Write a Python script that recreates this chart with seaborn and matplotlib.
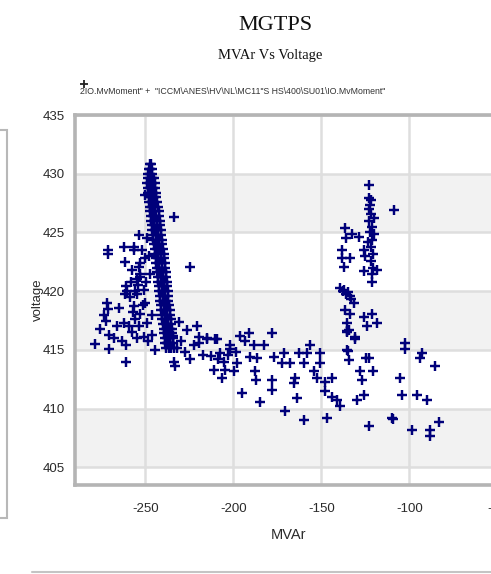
import numpy as np
import pandas as pd
import matplotlib
matplotlib.use("Agg")
import matplotlib.pyplot as plt
from matplotlib import font_manager
from matplotlib.ticker import MultipleLocator
from matplotlib.patches import Rectangle
from matplotlib.lines import Line2D
import seaborn as sns

# ---------------- data ----------------
# dense ridge: voltage levels and MVAr values across the ridge at each level
band_levels = [430.8, 430.4, 430.0, 429.6, 429.2, 428.8, 428.4, 428.0, 427.6, 427.2,
               426.8, 426.4, 426.0, 425.6, 425.2, 424.8, 424.4, 424.0, 423.6, 423.2,
               422.8, 422.4, 422.0, 421.6, 421.2, 420.8, 420.4, 420.0, 419.6, 419.2,
               418.8, 418.4, 418.0, 417.6, 417.2, 416.8, 416.4, 416.0, 415.6, 415.2]
band_mvar = [
    [-247.6, -247.0],
    [-248.0, -247.2, -246.5],
    [-248.4, -247.4, -246.2],
    [-248.7, -247.5, -246.0, -245.0],
    [-248.9, -247.6, -246.1, -244.5],
    [-248.6, -247.3, -245.9, -244.4],
    [-248.4, -247.0, -245.6, -244.2],
    [-248.2, -246.8, -245.3, -243.8],
    [-248.0, -246.5, -245.0, -243.4],
    [-247.6, -246.2, -244.7, -243.0],
    [-247.3, -245.8, -244.3, -242.5],
    [-247.0, -245.5, -244.0, -242.0],
    [-246.7, -245.2, -243.6, -241.8],
    [-246.4, -244.9, -243.3, -241.5],
    [-246.0, -244.5, -243.0, -241.2],
    [-245.7, -244.2, -242.6, -240.9],
    [-245.4, -243.9, -242.3, -240.6],
    [-245.0, -243.6, -242.0, -240.3],
    [-244.7, -243.2, -241.7, -240.0],
    [-244.4, -242.9, -241.4, -239.6],
    [-244.1, -242.6, -241.1, -239.3],
    [-243.8, -242.3, -240.8, -239.0],
    [-243.5, -242.0, -240.4, -238.8],
    [-243.2, -241.7, -240.1, -238.5],
    [-242.9, -241.4, -239.8, -238.2],
    [-242.6, -241.1, -239.5, -237.8],
    [-242.3, -240.8, -239.2, -237.6],
    [-242.0, -240.5, -238.9, -237.3],
    [-241.8, -240.2, -238.6, -237.1],
    [-241.5, -239.9, -238.3, -236.9],
    [-241.2, -239.7, -238.1, -236.6],
    [-240.9, -239.4, -237.8, -236.3],
    [-240.6, -239.1, -237.6, -236.0],
    [-240.3, -238.8, -237.3, -235.7],
    [-240.0, -238.5, -237.0, -235.4],
    [-239.7, -238.2, -236.7, -235.1],
    [-239.4, -237.9, -236.4, -234.8],
    [-239.0, -237.6, -236.1, -234.5],
    [-238.6, -237.3, -235.8, -234.2],
    [-238.2, -236.8, -235.4, -233.8],
]

left_mvar = [-271.2, -271.0, -262.3, -261.4, -256.6, -253.8, -249.0, -250.0,
             -271.8, -271.0, -265.2, -260.8, -260.7, -261.4, -254.7, -253.2, -252.8,
             -275.6, -262.3, -278.4, -270.8, -270.8, -260.8, -260.8, -250.6,
             -256.6, -253.8, -252.8, -251.0, -250.0, -256.6, -252.8, -255.7, -249.0,
             -257.5, -258.0, -255.0, -254.0, -256.0, -258.5, -257.0, -259.5, -253.5,
             -251.5, -249.5, -250.5, -252.0, -254.5, -257.5, -263.5, -266.0, -268.0,
             -272.5, -273.5, -248.5, -246.0, -244.3, -246.5, -247.5, -248.0]
left_volt = [423.5, 423.2, 423.8, 422.5, 423.5, 424.8, 424.5, 428.2,
             419.0, 418.5, 418.6, 420.4, 420.0, 419.8, 419.8, 422.4, 421.5,
             416.8, 417.3, 415.5, 415.1, 416.3, 414.0, 415.4, 416.1,
             423.8, 422.1, 421.2, 420.1, 419.0, 418.7, 418.1, 417.6, 417.3,
             421.8, 420.8, 421.0, 420.5, 420.0, 419.5, 418.2, 417.0, 417.0,
             418.8, 420.8, 422.8, 423.5, 416.0, 416.5, 415.8, 417.0, 416.0,
             417.5, 418.0, 415.8, 416.3, 415.0, 418.0, 421.5, 423.0]

mid_mvar = [-233.9, -224.4, -231.1, -226.3, -220.6, -219.7, -214.9, -209.3, -201.7, -191.3, -235.8,
            -237.7, -233.9, -233.0, -224.4, -219.7, -214.9, -211.1, -206.4, -204.5, -201.7, -197.9,
            -195.0, -207.4, -210.2,
            -178.0, -188.5, -182.8, -190.3, -186.5, -187.5, -186.9, -184.7, -178.0, -178.0, -177.2,
            -171.4, -172.3, -167.6, -165.7, -164.8, -162.9, -163.8, -158.2, -156.3, -160.1, -170.5,
            -160.1,
            -150.6, -150.6, -154.4, -152.4, -147.7, -147.7, -143.9, -143.9, -141.1, -139.2, -146.8,
            -236.0, -234.5, -232.0, -229.5, -227.5, -222.5, -217.5, -213.0, -208.5, -205.5, -203.0,
            -199.5, -198.5, -196.0, -193.5]
mid_volt = [426.3, 422.1, 417.4, 416.7, 417.0, 416.1, 416.0, 415.9, 415.4, 416.4, 415.6,
            415.6, 414.0, 413.6, 414.2, 415.6, 415.9, 413.3, 412.6, 413.3, 415.1, 413.9,
            411.3, 414.7, 415.9,
            416.4, 415.4, 415.4, 414.4, 414.3, 413.2, 412.4, 410.6, 412.4, 411.6, 414.4,
            414.7, 413.9, 413.9, 412.2, 412.6, 414.7, 410.9, 414.7, 415.4, 413.9, 409.8,
            409.0,
            414.7, 413.9, 413.2, 412.6, 412.3, 411.5, 412.6, 411.0, 410.7, 410.2, 409.2,
            416.8, 416.2, 415.2, 415.8, 414.8, 415.4, 414.6, 414.5, 414.2, 414.0, 414.6,
            413.2, 414.8, 416.2, 415.8]

right_mvar = [-123.1, -123.1, -122.5, -122.0, -122.8, -121.5, -122.3, -121.0, -122.0, -120.8,
              -121.8, -120.5, -121.5, -120.0, -123.5, -120.3, -123.0, -121.8,
              -109.0, -136.4, -132.6, -128.8, -136.0, -138.3, -138.3, -133.5, -137.3, -126.0,
              -125.0, -126.0, -121.3, -118.4, -139.2, -138.0, -137.0, -136.0, -135.0, -134.0,
              -133.0, -131.7, -136.4, -133.5, -135.5, -135.5, -134.5, -130.7, -126.0, -121.3,
              -124.1, -118.4, -134.5, -134.8, -123.1, -135.5, -130.7, -124.4, -128.2, -127.2,
              -120.6, -129.8, -126.0, -123.2, -135.5]
right_volt = [429.0, 427.9, 427.3, 426.6, 426.0, 425.5, 425.0, 424.4, 423.8, 423.2,
              422.6, 422.0, 421.5, 426.2, 424.2, 424.9, 427.0, 427.8,
              426.9, 425.4, 424.9, 424.6, 424.5, 423.5, 422.8, 422.8, 422.1, 423.5,
              423.0, 421.7, 420.8, 421.8, 420.3, 420.0, 420.1, 419.8, 419.9, 419.6,
              419.3, 419.0, 418.4, 418.1, 417.3, 416.5, 416.7, 416.1, 417.8, 418.1,
              417.0, 417.3, 414.1, 414.9, 414.3, 415.0, 415.9, 414.3, 413.2, 412.4,
              413.2, 410.7, 411.2, 408.5, 416.6]

far_mvar = [-109.9, -109.3, -105.1, -104.2, -102.3, -102.3, -98.5, -93.8, -92.9, -95.7,
            -90.0, -85.2, -88.1, -88.1, -83.4]
far_volt = [409.2, 409.1, 412.6, 411.2, 415.6, 415.1, 408.2, 414.3, 414.7, 411.2,
            410.7, 413.6, 408.2, 407.7, 408.9]

x_ticks = [-250, -200, -150, -100, -50]
y_ticks = [405, 410, 415, 420, 425, 430, 435]
title_text = "MGTPS"
subtitle_text = "MVAr Vs Voltage"
legend_text = ('2IO.MvMoment" +  "ICCM\\ANES\\HV\\NL\\MC11"S HS\\400\\SU01\\IO.MvMoment"')
x_label = "MVAr"
y_label = "voltage"

# ---------------- build table ----------------
bx, by = [], []
for lev, row in zip(band_levels, band_mvar):
    for v in row:
        bx.append(v)
        by.append(lev)
all_x = bx + left_mvar + mid_mvar + right_mvar + far_mvar
all_y = by + left_volt + mid_volt + right_volt + far_volt
df = pd.DataFrame({"MVAr": all_x, "Voltage": all_y})

# ---------------- fonts ----------------
sns.set_theme(style="white")
names = {f.name for f in font_manager.fontManager.ttflist}
def pick(*cands):
    for c in cands:
        if c in names:
            return c
    return "DejaVu Sans"
narrow = pick("Liberation Sans Narrow", "Liberation Sans", "DejaVu Sans")
sans = pick("Liberation Sans", "DejaVu Sans")
serif = pick("Liberation Serif", "DejaVu Serif")
plt.rcParams["font.family"] = [sans, "DejaVu Sans"]
plt.rcParams["axes.unicode_minus"] = False

W, H = 491, 574
fig = plt.figure(figsize=(W / 100, H / 100), dpi=100)
fig.patch.set_facecolor("white")

xmin, xmax = -290, -30
ymin, ymax = 403.5, 435
ax_left_px, ax_bottom_px, ax_top_px = 75, 485, 115
ax_w_px = (xmax - xmin) * 1.76
ax = fig.add_axes([ax_left_px / W, 1 - ax_bottom_px / H, ax_w_px / W,
                   (ax_bottom_px - ax_top_px) / H])
ax.set_facecolor("white")

# alternating bands
for lo in [405, 415, 425]:
    ax.axhspan(lo, lo + 5, color="#f2f2f2", zorder=0, lw=0)

sns.scatterplot(data=df, x="MVAr", y="Voltage", marker="+", color="#00007a",
                s=50, linewidth=1.75, ax=ax, zorder=3, legend=False)

ax.set_xlim(xmin, xmax)
ax.set_ylim(ymin, ymax)
ax.set_xticks(x_ticks)
ax.set_yticks(y_ticks)
ax.xaxis.set_minor_locator(MultipleLocator(10))
ax.yaxis.set_minor_locator(MultipleLocator(1))
ax.grid(True, which="major", color="#dedede", lw=1.8, zorder=1)
ax.set_axisbelow(True)

for side in ["left", "bottom", "top", "right"]:
    ax.spines[side].set_color("#b4b4b4")
    ax.spines[side].set_linewidth(2.6)

ax.tick_params(axis="both", which="major", direction="out", length=6, width=1.2,
               color="#b0b0b0", labelsize=9.5, labelcolor="#2a2a2a")
ax.tick_params(axis="x", which="major", pad=7)
ax.tick_params(axis="y", which="major", pad=1.5)
ax.tick_params(axis="both", which="minor", direction="in", length=6, width=1.2,
               color="#b8b8b8")
for lab in ax.get_xticklabels() + ax.get_yticklabels():
    lab.set_fontfamily([narrow, "DejaVu Sans"])

ax.set_xlabel("")
ax.set_ylabel("")
fig.text(288 / W, 1 - 535 / H, x_label, ha="center", va="center",
         fontsize=10.5, family=[narrow, "DejaVu Sans"], color="#2a2a2a")
fig.text(38 / W, 1 - 300 / H, y_label, ha="center", va="center", rotation=90,
         fontsize=9.5, family=[sans, "DejaVu Sans"], color="#2a2a2a")

# titles
fig.text(275 / W, 1 - 25 / H, title_text, ha="center", va="center",
         fontsize=16, family=[serif, "DejaVu Serif"], color="#111111")
fig.text(270 / W, 1 - 55 / H, subtitle_text, ha="center", va="center",
         fontsize=10.5, family=[serif, "DejaVu Serif"], color="#111111")

# legend line
fig.lines.append(Line2D([84 / W], [1 - 84 / H], marker="+", color="#222222",
                        markersize=6, mew=1.3, transform=fig.transFigure))
fig.text(80 / W, 1 - 92 / H, legend_text, ha="left", va="center",
         fontsize=6.3, family=[sans, "DejaVu Sans"], color="#333333")

# neighbouring panel at the left edge and bottom edge
fig.patches.append(Rectangle((-10 / W, 1 - 518 / H), 17 / W, 388 / H,
                             transform=fig.transFigure, fill=False,
                             ec="#b8b8b8", lw=1.5))
fig.lines.append(Line2D([32 / W, 1.0], [1 - 572 / H, 1 - 572 / H], color="#c4c4c4",
                        lw=1.5, transform=fig.transFigure))

fig.savefig("out.png", dpi=100)
